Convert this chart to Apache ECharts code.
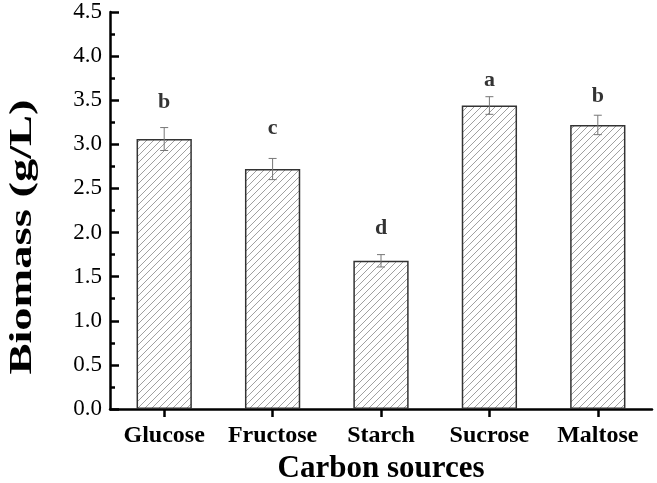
<!DOCTYPE html>
<html><head><meta charset="utf-8">
<script src="https://cdn.jsdelivr.net/npm/echarts@6/dist/echarts.min.js"></script>
<style>html,body{margin:0;padding:0;background:#fff}#c{width:657px;height:483px}</style>
</head><body><div id="c"></div>
<script>
var categories = ['Glucose', 'Fructose', 'Starch', 'Sucrose', 'Maltose'];
var biomass = [3.06, 2.72, 1.68, 3.44, 3.22];
var errors = [0.13, 0.12, 0.07, 0.10, 0.11];
var letters = ['b', 'c', 'd', 'a', 'b'];
var letterPos = [3.48, 3.18, 2.05, 3.73, 3.54];
var yTicks = {min: 0, max: 4.5, interval: 0.5};
var yTitle = 'Biomass (g/L)';
var xTitle = 'Carbon sources';

function hatch() {
  var s = 7, cv = document.createElement('canvas');
  cv.width = s; cv.height = s;
  var g = cv.getContext('2d');
  g.fillStyle = '#fff'; g.fillRect(0, 0, s, s);
  g.strokeStyle = '#a0a0a0'; g.lineWidth = 1;
  g.beginPath();
  g.moveTo(-1, s + 1); g.lineTo(s + 1, -1);
  g.moveTo(-1, 1); g.lineTo(1, -1);
  g.moveTo(s - 1, s + 1); g.lineTo(s + 1, s - 1);
  g.stroke();
  return cv;
}

var font = 'Liberation Serif';
var chart = echarts.init(document.getElementById('c'), null, {renderer: 'canvas'});
chart.setOption({
  animation: false,
  backgroundColor: '#fff',
  grid: {left: 110, right: 5, top: 12, bottom: 74, containLabel: false, outerBoundsMode: 'none'},
  graphic: [{
    type: 'text', x: 23, y: 237, rotation: Math.PI / 2, scaleX: 1.5,
    style: {text: yTitle, fill: '#000', font: 'bold 31px "Liberation Serif"', align: 'center', verticalAlign: 'middle'}
  }],
  xAxis: {
    type: 'category', data: categories,
    axisLine: {lineStyle: {color: '#000', width: 2.5}},
    axisTick: {show: true, alignWithLabel: true, length: 8, lineStyle: {color: '#000', width: 2.5}},
    axisLabel: {color: '#000', fontFamily: font, fontWeight: 'bold', fontSize: 24, margin: 15, interval: 0},
    name: xTitle, nameLocation: 'middle', nameGap: 44,
    nameTextStyle: {color: '#000', fontFamily: font, fontWeight: 'bold', fontSize: 31}
  },
  yAxis: {
    type: 'value', min: yTicks.min, max: yTicks.max, interval: yTicks.interval,
    axisLine: {show: true, lineStyle: {color: '#000', width: 2.5}},
    axisTick: {show: true, inside: true, length: 9, lineStyle: {color: '#000', width: 2.5}},
    minorTick: {show: true, splitNumber: 2, length: 5, lineStyle: {color: '#000', width: 2.5}},
    splitLine: {show: false},
    axisLabel: {color: '#000', fontFamily: font, fontSize: 23, margin: 8,
      formatter: function (v) { return v.toFixed(1); }}
  },
  series: [
    {
      type: 'bar', data: biomass, barWidth: '51%',
      itemStyle: {color: {image: hatch(), repeat: 'repeat'}, borderColor: '#333', borderWidth: 1.5}
    },
    {
      type: 'custom',
      data: biomass.map(function (v, i) { return [i, v - errors[i], v + errors[i]]; }),
      renderItem: function (params, api) {
        var lo = api.coord([api.value(0), api.value(1)]);
        var hi = api.coord([api.value(0), api.value(2)]);
        var w = 4;
        var st = {stroke: '#777', lineWidth: 1};
        return {type: 'group', children: [
          {type: 'line', shape: {x1: hi[0], y1: hi[1], x2: lo[0], y2: lo[1]}, style: st},
          {type: 'line', shape: {x1: hi[0] - w, y1: hi[1], x2: hi[0] + w, y2: hi[1]}, style: st},
          {type: 'line', shape: {x1: lo[0] - w, y1: lo[1], x2: lo[0] + w, y2: lo[1]}, style: st}
        ]};
      },
      z: 5
    },
    {
      type: 'scatter', symbolSize: 0,
      data: letterPos.map(function (v, i) { return {value: [i, v], label: {formatter: letters[i]}}; }),
      label: {show: true, position: 'inside', color: '#000', fontFamily: font, fontWeight: 'bold', fontSize: 22}
    }
  ]
});
</script></body></html>
